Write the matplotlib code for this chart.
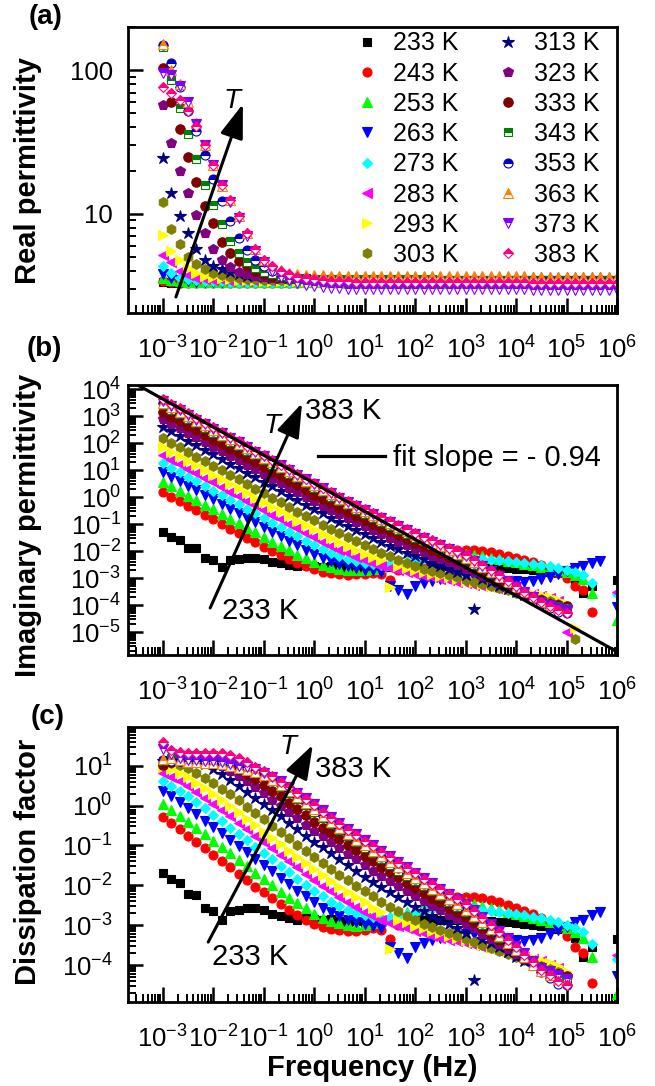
import numpy as np
import matplotlib
matplotlib.use("Agg")
import matplotlib.pyplot as plt
from matplotlib.ticker import FixedLocator, LogLocator, NullFormatter, FuncFormatter

nan = np.nan

plt.rcParams["font.family"] = ["Liberation Sans", "DejaVu Sans"]
plt.rcParams["mathtext.fontset"] = "custom"
plt.rcParams["mathtext.rm"] = "Liberation Sans"
plt.rcParams["mathtext.it"] = "Liberation Sans:italic"
plt.rcParams["mathtext.bf"] = "Liberation Sans:bold"

# frequency grid of the sweep: 6 points per decade, 1 mHz .. 1 MHz
freq = np.logspace(-3, 6, 55)

# ---- real permittivity (linear) ----
re233 = [3.35, 3.32, 3.31, 3.30, 3.30, 3.30, 3.30, 3.30, 3.30, 3.30, 3.30,
         3.30, 3.30, 3.30, 3.30, 3.30, 3.30, 3.30, 3.30, 3.30, 3.30, 3.30,
         3.30, 3.30, 3.30, 3.30, 3.30, 3.30, 3.30, 3.30, 3.30, 3.30, 3.30,
         3.29, 3.29, 3.29, 3.29, 3.29, 3.29, 3.29, 3.29, 3.29, 3.29, 3.29,
         3.29, 3.29, 3.29, 3.29, 3.29, 3.29, 3.29, 3.29, 3.29, 3.29, 3.29]
re243 = [3.38, 3.34, 3.32, 3.31, 3.30, 3.30, 3.30, 3.30, 3.30, 3.30, 3.30,
         3.30, 3.30, 3.30, 3.30, 3.30, 3.30, 3.30, 3.30, 3.30, 3.30, 3.30,
         3.30, 3.30, 3.30, 3.30, 3.30, 3.30, 3.30, 3.30, 3.30, 3.30, 3.30,
         3.29, 3.29, 3.29, 3.29, 3.29, 3.29, 3.29, 3.29, 3.29, 3.29, 3.29,
         3.29, 3.29, 3.29, 3.29, 3.29, 3.29, 3.29, 3.29, 3.29, 3.29, 3.29]
re253 = [3.60, 3.45, 3.38, 3.35, 3.34, 3.33, 3.33, 3.33, 3.33, 3.33, 3.33,
         3.33, 3.33, 3.33, 3.33, 3.33, 3.33, 3.33, 3.33, 3.33, 3.33, 3.33,
         3.32, 3.32, 3.32, 3.32, 3.32, 3.32, 3.32, 3.32, 3.32, 3.32, 3.32,
         3.32, 3.32, 3.32, 3.32, 3.32, 3.32, 3.32, 3.32, 3.32, 3.32, 3.32,
         3.32, 3.32, 3.32, 3.32, 3.32, 3.32, 3.32, 3.32, 3.32, 3.32, 3.32]
re263 = [3.80, 3.55, 3.45, 3.40, 3.37, 3.36, 3.35, 3.35, 3.35, 3.35, 3.35,
         3.35, 3.35, 3.35, 3.35, 3.35, 3.35, 3.35, 3.35, 3.35, 3.35, 3.35,
         3.34, 3.34, 3.34, 3.34, 3.34, 3.34, 3.34, 3.34, 3.34, 3.34, 3.34,
         3.34, 3.34, 3.34, 3.34, 3.34, 3.34, 3.34, 3.34, 3.34, 3.34, 3.34,
         3.34, 3.34, 3.34, 3.34, 3.34, 3.34, 3.34, 3.34, 3.34, 3.34, 3.34]
re273 = [4.30, 3.85, 3.60, 3.50, 3.45, 3.42, 3.40, 3.38, 3.37, 3.36, 3.36,
         3.36, 3.36, 3.36, 3.36, 3.36, 3.36, 3.36, 3.36, 3.36, 3.36, 3.36,
         3.35, 3.35, 3.35, 3.35, 3.35, 3.35, 3.35, 3.35, 3.35, 3.35, 3.35,
         3.35, 3.35, 3.35, 3.35, 3.35, 3.35, 3.35, 3.35, 3.35, 3.35, 3.35,
         3.35, 3.35, 3.35, 3.35, 3.35, 3.35, 3.35, 3.35, 3.35, 3.35, 3.35]
re283 = [5.20, 4.60, 4.00, 3.75, 3.60, 3.52, 3.47, 3.44, 3.42, 3.41, 3.40,
         3.40, 3.40, 3.40, 3.40, 3.40, 3.40, 3.40, 3.40, 3.40, 3.40, 3.40,
         3.39, 3.39, 3.39, 3.39, 3.39, 3.39, 3.39, 3.39, 3.39, 3.39, 3.39,
         3.38, 3.38, 3.38, 3.38, 3.38, 3.38, 3.38, 3.38, 3.38, 3.38, 3.38,
         3.38, 3.38, 3.38, 3.38, 3.38, 3.38, 3.38, 3.38, 3.38, 3.38, 3.38]
re293 = [7.10, 5.50, 4.80, 4.20, 3.90, 3.72, 3.62, 3.55, 3.50, 3.47, 3.45,
         3.44, 3.43, 3.42, 3.42, 3.42, 3.41, 3.41, 3.41, 3.41, 3.41, 3.41,
         3.41, 3.41, 3.41, 3.41, 3.41, 3.41, 3.41, 3.41, 3.41, 3.41, 3.41,
         3.40, 3.40, 3.40, 3.40, 3.40, 3.40, 3.40, 3.40, 3.40, 3.40, 3.40,
         3.40, 3.40, 3.40, 3.40, 3.40, 3.40, 3.40, 3.40, 3.40, 3.40, 3.40]
re303 = [12.0, 7.80, 6.20, 5.00, 4.50, 4.15, 3.90, 3.75, 3.65, 3.58, 3.53,
         3.50, 3.48, 3.47, 3.46, 3.45, 3.45, 3.45, 3.44, 3.44, 3.44, 3.44,
         3.44, 3.44, 3.44, 3.44, 3.44, 3.44, 3.44, 3.44, 3.44, 3.44, 3.44,
         3.43, 3.43, 3.43, 3.43, 3.43, 3.43, 3.43, 3.43, 3.43, 3.43, 3.43,
         3.43, 3.43, 3.43, 3.43, 3.43, 3.43, 3.43, 3.43, 3.43, 3.43, 3.43]
re313 = [24.6, 14.0, 9.70, 7.30, 5.70, 4.80, 4.35, 4.10, 3.92, 3.80, 3.72,
         3.67, 3.63, 3.60, 3.58, 3.57, 3.56, 3.56, 3.56, 3.56, 3.56, 3.56,
         3.55, 3.55, 3.55, 3.55, 3.55, 3.55, 3.55, 3.55, 3.55, 3.55, 3.55,
         3.55, 3.55, 3.55, 3.55, 3.55, 3.55, 3.55, 3.55, 3.55, 3.55, 3.55,
         3.55, 3.55, 3.55, 3.55, 3.55, 3.55, 3.55, 3.55, 3.55, 3.55, 3.55]
re323 = [57.0, 31.0, 20.0, 13.9, 9.80, 7.30, 5.70, 4.80, 4.25, 3.95, 3.80,
         3.70, 3.64, 3.60, 3.57, 3.55, 3.53, 3.52, 3.51, 3.50, 3.50, 3.50,
         3.49, 3.49, 3.49, 3.49, 3.49, 3.49, 3.49, 3.49, 3.49, 3.49, 3.49,
         3.48, 3.48, 3.48, 3.48, 3.48, 3.48, 3.48, 3.48, 3.48, 3.48, 3.48,
         3.48, 3.48, 3.48, 3.48, 3.48, 3.48, 3.48, 3.48, 3.48, 3.48, 3.48]
re333 = [103., 60.0, 39.0, 25.0, 16.7, 11.4, 8.60, 6.40, 5.30, 4.70, 4.30,
         4.00, 3.82, 3.72, 3.64, 3.59, 3.56, 3.54, 3.52, 3.51, 3.50, 3.50,
         3.49, 3.49, 3.49, 3.49, 3.49, 3.49, 3.49, 3.49, 3.49, 3.49, 3.49,
         3.48, 3.48, 3.48, 3.48, 3.48, 3.48, 3.48, 3.48, 3.48, 3.48, 3.48,
         3.48, 3.48, 3.48, 3.48, 3.48, 3.48, 3.48, 3.48, 3.48, 3.48, 3.48]
re343 = [145., 85.0, 55.0, 36.0, 24.0, 16.0, 11.5, 8.50, 6.50, 5.30, 4.60,
         4.20, 3.95, 3.80, 3.70, 3.63, 3.59, 3.56, 3.54, 3.52, 3.51, 3.50,
         3.50, 3.50, 3.50, 3.50, 3.50, 3.50, 3.50, 3.50, 3.50, 3.50, 3.50,
         3.49, 3.49, 3.49, 3.49, 3.49, 3.49, 3.49, 3.49, 3.49, 3.49, 3.49,
         3.48, 3.48, 3.48, 3.48, 3.48, 3.48, 3.48, 3.48, 3.48, 3.48, 3.48]
re353 = [150., 112., 76.0, 52.0, 38.0, 25.5, 17.6, 12.3, 8.90, 6.80, 5.60,
         4.80, 4.30, 4.00, 3.80, 3.68, 3.60, 3.55, 3.52, 3.50, 3.48, 3.47,
         3.46, 3.45, 3.45, 3.45, 3.45, 3.45, 3.45, 3.45, 3.45, 3.45, 3.45,
         3.45, 3.45, 3.45, 3.45, 3.45, 3.45, 3.45, 3.45, 3.45, 3.45, 3.45,
         3.44, 3.44, 3.44, 3.44, 3.44, 3.44, 3.44, 3.44, 3.44, 3.44, 3.44]
re363 = [153., 100., 80.0, 60.0, 43.0, 30.0, 22.0, 15.6, 12.4, 9.60, 7.30,
         5.70, 4.80, 4.30, 4.05, 3.90, 3.82, 3.78, 3.75, 3.73, 3.72, 3.71,
         3.70, 3.70, 3.70, 3.70, 3.70, 3.70, 3.70, 3.70, 3.70, 3.70, 3.70,
         3.68, 3.68, 3.68, 3.68, 3.68, 3.68, 3.68, 3.68, 3.68, 3.68, 3.68,
         3.66, 3.66, 3.66, 3.66, 3.66, 3.66, 3.66, 3.66, 3.66, 3.66, 3.66]
re373 = [95.0, 92.0, 78.0, 60.0, 42.0, 30.0, 22.0, 16.0, 12.0, 9.30, 7.00,
         5.50, 4.60, 4.00, 3.65, 3.45, 3.32, 3.22, 3.15, 3.10, 3.06, 3.03,
         3.01, 3.00, 3.00, 3.00, 3.00, 3.00, 3.00, 3.00, 3.00, 3.00, 3.00,
         2.98, 2.98, 2.98, 2.98, 2.98, 2.98, 2.98, 2.98, 2.98, 2.98, 2.98,
         2.96, 2.96, 2.96, 2.96, 2.96, 2.96, 2.96, 2.96, 2.96, 2.96, 2.96]
re383 = [76.0, 70.0, 62.0, 52.0, 41.0, 30.0, 22.0, 16.0, 12.4, 9.60, 7.30,
         5.70, 4.80, 4.30, 4.00, 3.80, 3.65, 3.55, 3.50, 3.45, 3.42, 3.40,
         3.38, 3.37, 3.36, 3.35, 3.35, 3.35, 3.35, 3.35, 3.35, 3.35, 3.35,
         3.33, 3.33, 3.33, 3.33, 3.33, 3.33, 3.33, 3.33, 3.33, 3.33, 3.33,
         3.31, 3.31, 3.31, 3.31, 3.31, 3.31, 3.31, 3.31, 3.31, 3.31, 3.31]

# ---- imaginary permittivity, log10 ----
im233 = [-1.31, -1.47, -1.59, -1.88, -1.90, -2.27, -2.33, -2.58, -2.33, -2.30, -2.27,
         -2.25, -2.30, -2.40, -2.46, -2.52, -2.56, -2.52, -2.55, -2.58, -2.55, -2.60,
         -2.62, -2.60, -2.63, -2.62, -2.60, -2.58, -2.57, -2.56, -2.55, -2.55, -2.55,
         -2.56, -2.57, -2.58, -2.58, -2.59, -2.60, -2.61, -2.62, -2.63, -2.65, -2.67,
         -2.70, -2.73, -2.77, -2.82, -2.90, -3.05, -3.57, -3.30, nan, nan, -3.07]
im243 = [0.19, 0.01, -0.15, -0.32, -0.49, -0.66, -0.83, -1.00, -1.17, -1.34, -1.51,
         -1.68, -1.84, -2.00, -2.15, -2.30, -2.44, -2.57, -2.68, -2.76, -2.82, -2.85,
         -2.87, -2.86, -2.84, -2.80, -2.85, -3.07, -2.70, -2.58, -2.45, -2.32, -2.20,
         -2.10, -2.02, -1.97, -1.96, -1.97, -2.00, -2.05, -2.11, -2.18, -2.25, -2.33,
         -2.42, -2.52, -2.64, -2.80, -3.00, -3.30, -3.45, -4.25, nan, nan, nan]
im253 = [0.56, 0.39, 0.22, 0.05, -0.12, -0.29, -0.46, -0.63, -0.80, -0.97, -1.14,
         -1.31, -1.48, -1.65, -1.82, -1.98, -2.13, -2.27, -2.40, -2.51, -2.60, -2.66,
         -2.70, -2.72, -2.70, -2.66, -2.60, -2.53, -2.45, -2.37, -2.30, -2.23, -2.17,
         -2.12, -2.09, -2.08, -2.10, -2.14, -2.19, -2.25, -2.30, -2.36, -2.42, -2.48,
         -2.53, -2.58, -2.64, -2.70, -2.78, -2.88, -3.05, -3.57, nan, nan, -4.56]
im263 = [0.93, 0.76, 0.59, 0.42, 0.25, 0.08, -0.09, -0.26, -0.43, -0.60, -0.77,
         -0.94, -1.11, -1.28, -1.45, -1.62, -1.79, -1.95, -2.10, -2.24, -2.37, -2.48,
         -2.57, -2.64, -2.69, -2.72, -2.78, -3.30, -3.45, -3.60, -3.30, -3.20, -3.10,
         -3.05, -3.00, -3.00, -2.95, -2.95, -3.00, -3.05, -3.10, -3.10, -3.12, -3.15,
         -3.10, -3.05, -2.95, -2.85, -2.75, -2.63, -2.56, -2.44, -2.37, nan, -4.07]
im273 = [1.26, 1.09, 0.92, 0.75, 0.58, 0.41, 0.24, 0.07, -0.10, -0.27, -0.44,
         -0.61, -0.78, -0.95, -1.12, -1.29, -1.46, -1.63, -1.79, -1.94, -2.08, -2.20,
         -2.30, -2.38, -2.44, -2.48, -2.50, -2.48, -2.45, -2.40, -2.35, -2.31, -2.28,
         -2.26, -2.25, -2.25, -2.26, -2.28, -2.30, -2.32, -2.35, -2.38, -2.41, -2.44,
         -2.48, -2.52, -2.57, -2.63, -2.70, -2.78, -2.88, -3.20, nan, nan, -3.60]
im283 = [1.56, 1.39, 1.22, 1.05, 0.88, 0.71, 0.54, 0.37, 0.20, 0.03, -0.14,
         -0.31, -0.48, -0.65, -0.82, -0.99, -1.16, -1.33, -1.49, -1.65, -1.80, -1.95,
         -2.09, -2.22, -2.34, -2.45, -2.55, -2.64, -2.72, -2.79, -2.86, -2.92, -2.98,
         -3.04, -3.09, -3.14, -3.19, -3.24, -3.29, -3.34, -3.39, -3.44, -3.49, -3.55,
         -3.61, -3.67, -3.75, -3.85, -5.00, nan, nan, nan, nan, nan, -3.50]
im293 = [1.85, 1.68, 1.51, 1.34, 1.17, 1.00, 0.83, 0.66, 0.49, 0.32, 0.15,
         -0.02, -0.19, -0.36, -0.53, -0.70, -0.87, -1.04, -1.20, -1.36, -1.52, -1.67,
         -1.82, -1.96, -2.10, -2.23, -2.35, -3.35, -2.55, -2.63, -2.71, -2.78, -2.85,
         -2.92, -2.98, -3.04, -3.10, -3.16, -3.22, -3.28, -3.34, -3.40, -3.46, -3.52,
         -3.58, -3.64, -3.70, -3.80, -3.95, -4.85, nan, nan, nan, nan, nan]
im303 = [2.18, 2.01, 1.84, 1.67, 1.50, 1.33, 1.16, 0.99, 0.82, 0.65, 0.48,
         0.31, 0.14, -0.03, -0.20, -0.37, -0.54, -0.70, -0.86, -1.02, -1.18, -1.34,
         -1.49, -1.64, -1.79, -1.93, -2.07, -2.20, -2.32, -2.44, -2.55, -2.65, -2.74,
         -2.82, -2.90, -2.98, -3.06, -3.14, -3.22, -3.30, -3.38, -3.46, -3.54, -3.62,
         -3.70, -3.78, -3.86, -3.95, nan, -5.25, nan, nan, nan, nan, nan]
im313 = [2.60, 2.43, 2.26, 2.09, 1.92, 1.75, 1.58, 1.41, 1.24, 1.07, 0.90,
         0.73, 0.56, 0.39, 0.22, 0.05, -0.12, -0.29, -0.45, -0.61, -0.77, -0.93,
         -1.08, -1.23, -1.38, -1.52, -1.66, -1.80, -1.93, -2.06, -2.19, -2.31, -2.43,
         -2.55, -2.66, -2.77, -2.88, -4.15, -3.05, -3.16, -3.28, -3.40, -3.52, -3.64,
         -3.76, -3.88, -3.95, nan, nan, nan, nan, nan, nan, nan, nan]
im323 = [2.89, 2.72, 2.55, 2.38, 2.21, 2.04, 1.87, 1.70, 1.53, 1.36, 1.19,
         1.02, 0.85, 0.68, 0.51, 0.34, 0.17, 0.00, -0.16, -0.32, -0.48, -0.64,
         -0.79, -0.94, -1.09, -1.23, -1.37, -1.51, -1.65, -1.78, -1.91, -2.04, -2.17,
         -2.29, -2.41, -2.53, -2.65, -2.78, -2.91, -3.05, -3.19, -3.33, -3.47, -3.61,
         -3.75, -3.85, -3.95, -4.00, nan, nan, nan, nan, nan, nan, nan]
im333 = [3.15, 2.98, 2.81, 2.64, 2.47, 2.30, 2.13, 1.96, 1.79, 1.62, 1.45,
         1.28, 1.11, 0.94, 0.77, 0.60, 0.43, 0.26, 0.09, -0.07, -0.23, -0.39,
         -0.54, -0.69, -0.84, -0.99, -1.13, -1.27, -1.41, -1.55, -1.69, -1.83, -1.96,
         -2.09, -2.22, -2.35, -2.48, -2.62, -2.77, -2.92, -3.07, -3.23, -3.39, -3.55,
         -3.70, -3.82, -3.95, -4.00, -4.05, nan, nan, nan, nan, nan, nan]
im343 = [3.41, 3.24, 3.07, 2.90, 2.73, 2.56, 2.39, 2.22, 2.05, 1.88, 1.71,
         1.54, 1.37, 1.20, 1.03, 0.86, 0.69, 0.52, 0.35, 0.18, 0.01, -0.15,
         -0.31, -0.47, -0.62, -0.77, -0.92, -1.07, -1.22, -1.36, -1.50, -1.64, -1.78,
         -1.92, -2.06, -2.20, -2.34, -2.50, -2.67, -2.84, -3.01, -3.19, -3.37, -3.55,
         -3.72, -3.85, -3.95, -4.05, -4.10, nan, nan, nan, nan, nan, nan]
im353 = [3.47, 3.30, 3.13, 2.96, 2.79, 2.62, 2.45, 2.28, 2.11, 1.94, 1.77,
         1.60, 1.43, 1.26, 1.09, 0.92, 0.75, 0.58, 0.41, 0.24, 0.07, -0.09,
         -0.25, -0.41, -0.56, -0.71, -0.86, -1.01, -1.16, -1.30, -1.45, -1.59, -1.73,
         -1.87, -2.01, -2.15, -2.29, -2.46, -2.63, -2.81, -2.99, -3.17, -3.36, -3.55,
         -3.74, -3.95, -4.10, -4.25, -4.30, nan, nan, nan, nan, nan, nan]
im363 = [3.50, 3.33, 3.16, 2.99, 2.82, 2.65, 2.48, 2.31, 2.14, 1.97, 1.80,
         1.63, 1.46, 1.29, 1.12, 0.95, 0.78, 0.61, 0.44, 0.27, 0.10, -0.06,
         -0.22, -0.37, -0.52, -0.67, -0.82, -0.97, -1.12, -1.26, -1.41, -1.55, -1.69,
         -1.83, -1.97, -2.11, -2.25, -2.42, -2.60, -2.78, -2.96, -3.15, -3.34, -3.53,
         -3.72, -3.88, -4.00, -4.10, -4.15, nan, nan, nan, nan, nan, nan]
im373 = [3.55, 3.38, 3.21, 3.04, 2.87, 2.70, 2.53, 2.36, 2.19, 2.02, 1.85,
         1.68, 1.51, 1.34, 1.17, 1.00, 0.83, 0.66, 0.49, 0.32, 0.15, -0.02,
         -0.18, -0.33, -0.48, -0.63, -0.78, -0.93, -1.08, -1.22, -1.37, -1.51, -1.65,
         -1.79, -1.93, -2.07, -2.20, -2.37, -2.55, -2.74, -2.93, -3.12, -3.32, -3.52,
         -3.72, -3.90, -4.00, -4.10, -4.20, nan, nan, nan, nan, nan, nan]
im383 = [3.63, 3.46, 3.28, 3.11, 2.94, 2.76, 2.59, 2.42, 2.24, 2.07, 1.90,
         1.72, 1.55, 1.38, 1.20, 1.03, 0.86, 0.68, 0.51, 0.34, 0.17, 0.00,
         -0.15, -0.30, -0.45, -0.60, -0.75, -0.90, -1.04, -1.18, -1.33, -1.47, -1.61,
         -1.75, -1.88, -2.01, -2.15, -2.33, -2.51, -2.70, -2.90, -3.10, -3.30, -3.50,
         -3.70, -3.90, -4.05, -4.20, -4.30, nan, nan, nan, nan, nan, nan]

# ---- dissipation factor, log10 ----
df233 = [-1.68, -1.83, -1.94, -2.22, -2.24, -2.58, -2.64, -2.88, -2.64, -2.61, -2.58,
         -2.57, -2.61, -2.71, -2.76, -2.82, -2.86, -2.82, -2.85, -2.88, -2.85, -2.89,
         -2.91, -2.89, -2.92, -2.91, -2.89, -2.88, -2.87, -2.86, -2.85, -2.85, -2.85,
         -2.86, -2.87, -2.88, -2.88, -2.88, -2.89, -2.90, -2.91, -2.92, -2.94, -2.96,
         -2.99, -3.02, -3.05, -3.10, -3.18, -3.32, -3.81, -3.55, nan, nan, -3.34]
df243 = [-0.28, -0.44, -0.59, -0.75, -0.91, -1.07, -1.23, -1.39, -1.55, -1.71, -1.87,
         -2.03, -2.18, -2.33, -2.47, -2.61, -2.74, -2.87, -2.97, -3.04, -3.10, -3.13,
         -3.15, -3.14, -3.12, -3.08, -3.13, -3.34, -2.99, -2.88, -2.75, -2.63, -2.52,
         -2.42, -2.35, -2.30, -2.29, -2.30, -2.33, -2.38, -2.43, -2.50, -2.57, -2.64,
         -2.73, -2.82, -2.93, -3.08, -3.27, -3.55, -3.69, -4.45, nan, nan, nan]
df253 = [0.04, -0.10, -0.25, -0.41, -0.56, -0.72, -0.88, -1.04, -1.20, -1.36, -1.52,
         -1.68, -1.84, -2.00, -2.16, -2.31, -2.45, -2.58, -2.71, -2.81, -2.89, -2.95,
         -2.99, -3.01, -2.99, -2.95, -2.89, -2.83, -2.75, -2.68, -2.61, -2.55, -2.49,
         -2.44, -2.41, -2.41, -2.42, -2.46, -2.51, -2.57, -2.61, -2.67, -2.72, -2.78,
         -2.83, -2.88, -2.93, -2.99, -3.06, -3.16, -3.32, -3.81, nan, nan, -4.74]
df263 = [0.36, 0.23, 0.09, -0.07, -0.22, -0.38, -0.54, -0.69, -0.85, -1.01, -1.17,
         -1.33, -1.49, -1.65, -1.81, -1.97, -2.13, -2.28, -2.42, -2.56, -2.68, -2.78,
         -2.87, -2.93, -2.98, -3.01, -3.06, -3.55, -3.69, -3.83, -3.55, -3.46, -3.36,
         -3.32, -3.27, -3.27, -3.22, -3.22, -3.27, -3.32, -3.36, -3.36, -3.38, -3.41,
         -3.36, -3.32, -3.22, -3.13, -3.04, -2.92, -2.86, -2.74, -2.68, nan, -4.28]
df273 = [0.62, 0.50, 0.37, 0.24, 0.08, -0.07, -0.23, -0.39, -0.55, -0.71, -0.87,
         -1.03, -1.19, -1.35, -1.51, -1.67, -1.83, -1.99, -2.14, -2.28, -2.42, -2.53,
         -2.62, -2.70, -2.75, -2.79, -2.81, -2.79, -2.76, -2.72, -2.67, -2.63, -2.60,
         -2.58, -2.58, -2.58, -2.58, -2.60, -2.62, -2.64, -2.67, -2.70, -2.73, -2.75,
         -2.79, -2.83, -2.88, -2.93, -3.00, -3.07, -3.17, -3.47, nan, nan, -3.84]
df283 = [0.82, 0.72, 0.62, 0.49, 0.34, 0.19, 0.04, -0.12, -0.27, -0.43, -0.59,
         -0.75, -0.91, -1.07, -1.23, -1.39, -1.55, -1.71, -1.86, -2.01, -2.15, -2.29,
         -2.42, -2.55, -2.66, -2.76, -2.86, -2.94, -3.02, -3.08, -3.15, -3.20, -3.26,
         -3.32, -3.36, -3.41, -3.46, -3.51, -3.55, -3.60, -3.65, -3.69, -3.74, -3.80,
         -3.85, -3.91, -3.99, -4.08, -5.16, nan, nan, nan, nan, nan, -3.75]
df293 = [0.96, 0.91, 0.81, 0.71, 0.58, 0.44, 0.29, 0.14, -0.01, -0.17, -0.33,
         -0.49, -0.65, -0.81, -0.97, -1.13, -1.29, -1.45, -1.60, -1.74, -1.89, -2.03,
         -2.17, -2.30, -2.43, -2.56, -2.67, -3.61, -2.86, -2.93, -3.01, -3.07, -3.14,
         -3.20, -3.26, -3.32, -3.37, -3.43, -3.49, -3.54, -3.60, -3.66, -3.71, -3.77,
         -3.83, -3.88, -3.94, -4.03, -4.17, -5.02, nan, nan, nan, nan, nan]
df303 = [1.04, 1.07, 1.01, 0.94, 0.83, 0.70, 0.57, 0.43, 0.28, 0.13, -0.03,
         -0.18, -0.34, -0.50, -0.66, -0.82, -0.98, -1.13, -1.28, -1.43, -1.58, -1.73,
         -1.87, -2.01, -2.15, -2.28, -2.42, -2.54, -2.65, -2.76, -2.87, -2.96, -3.05,
         -3.12, -3.20, -3.27, -3.35, -3.42, -3.50, -3.57, -3.65, -3.72, -3.80, -3.87,
         -3.95, -4.02, -4.10, -4.18, nan, -5.40, nan, nan, nan, nan, nan]
df313 = [1.12, 1.20, 1.20, 1.17, 1.11, 1.04, 0.92, 0.79, 0.65, 0.50, 0.35,
         0.20, 0.04, -0.12, -0.27, -0.43, -0.59, -0.75, -0.90, -1.05, -1.20, -1.35,
         -1.50, -1.64, -1.78, -1.91, -2.04, -2.17, -2.29, -2.42, -2.54, -2.65, -2.76,
         -2.88, -2.98, -3.08, -3.19, -4.38, -3.35, -3.45, -3.56, -3.68, -3.79, -3.90,
         -4.01, -4.13, -4.19, nan, nan, nan, nan, nan, nan, nan, nan]
df323 = [1.03, 1.14, 1.17, 1.17, 1.16, 1.13, 1.07, 0.99, 0.88, 0.75, 0.61,
         0.46, 0.31, 0.15, 0.00, -0.16, -0.32, -0.48, -0.63, -0.77, -0.92, -1.07,
         -1.21, -1.35, -1.49, -1.63, -1.76, -1.89, -2.02, -2.14, -2.27, -2.39, -2.51,
         -2.62, -2.74, -2.85, -2.96, -3.08, -3.21, -3.34, -3.47, -3.60, -3.73, -3.86,
         -4.00, -4.09, -4.18, -4.23, nan, nan, nan, nan, nan, nan, nan]
df333 = [1.02, 1.09, 1.12, 1.15, 1.17, 1.17, 1.14, 1.10, 1.03, 0.92, 0.80,
         0.67, 0.53, 0.38, 0.23, 0.07, -0.08, -0.24, -0.40, -0.55, -0.69, -0.84,
         -0.98, -1.12, -1.26, -1.40, -1.53, -1.66, -1.80, -1.93, -2.06, -2.19, -2.31,
         -2.43, -2.56, -2.68, -2.80, -2.93, -3.07, -3.21, -3.36, -3.51, -3.66, -3.81,
         -3.95, -4.06, -4.18, -4.23, -4.28, nan, nan, nan, nan, nan, nan]
df343 = [1.12, 1.19, 1.22, 1.24, 1.26, 1.28, 1.26, 1.23, 1.19, 1.12, 1.02,
         0.90, 0.76, 0.62, 0.47, 0.32, 0.16, 0.01, -0.15, -0.31, -0.47, -0.62,
         -0.77, -0.92, -1.06, -1.20, -1.34, -1.49, -1.63, -1.76, -1.89, -2.02, -2.15,
         -2.28, -2.42, -2.55, -2.68, -2.83, -2.99, -3.15, -3.31, -3.48, -3.65, -3.82,
         -3.98, -4.10, -4.19, -4.29, -4.33, nan, nan, nan, nan, nan, nan]
df353 = [1.15, 1.12, 1.13, 1.13, 1.11, 1.12, 1.12, 1.12, 1.10, 1.06, 0.98,
         0.89, 0.78, 0.65, 0.51, 0.36, 0.22, 0.07, -0.09, -0.24, -0.40, -0.55,
         -0.71, -0.86, -1.00, -1.14, -1.28, -1.42, -1.56, -1.69, -1.83, -1.96, -2.10,
         -2.23, -2.36, -2.49, -2.62, -2.78, -2.94, -3.11, -3.28, -3.45, -3.63, -3.81,
         -3.99, -4.18, -4.32, -4.47, -4.51, nan, nan, nan, nan, nan, nan]
df363 = [1.18, 1.20, 1.14, 1.10, 1.09, 1.08, 1.06, 1.05, 0.99, 0.94, 0.90,
         0.84, 0.76, 0.65, 0.51, 0.37, 0.22, 0.06, -0.09, -0.25, -0.41, -0.56,
         -0.71, -0.85, -0.99, -1.13, -1.27, -1.41, -1.55, -1.68, -1.82, -1.95, -2.08,
         -2.21, -2.34, -2.47, -2.61, -2.76, -2.93, -3.10, -3.27, -3.45, -3.63, -3.81,
         -3.99, -4.14, -4.25, -4.34, -4.39, nan, nan, nan, nan, nan, nan]
df373 = [1.43, 1.29, 1.20, 1.15, 1.15, 1.13, 1.11, 1.09, 1.05, 1.00, 0.96,
         0.91, 0.83, 0.73, 0.61, 0.47, 0.33, 0.18, 0.03, -0.12, -0.28, -0.43,
         -0.58, -0.72, -0.85, -0.99, -1.13, -1.27, -1.42, -1.55, -1.69, -1.82, -1.95,
         -2.08, -2.21, -2.35, -2.47, -2.63, -2.80, -2.98, -3.15, -3.33, -3.52, -3.71,
         -3.90, -4.07, -4.16, -4.25, -4.35, nan, nan, nan, nan, nan, nan]
df383 = [1.60, 1.40, 1.35, 1.33, 1.32, 1.32, 1.32, 1.31, 1.28, 1.20, 1.10,
         0.98, 0.86, 0.74, 0.60, 0.46, 0.32, 0.16, 0.01, -0.15, -0.30, -0.46,
         -0.60, -0.74, -0.88, -1.02, -1.16, -1.30, -1.43, -1.56, -1.70, -1.83, -1.96,
         -2.10, -2.22, -2.34, -2.47, -2.64, -2.81, -2.99, -3.18, -3.36, -3.55, -3.74,
         -3.93, -4.12, -4.26, -4.40, -4.49, nan, nan, nan, nan, nan, nan]

# straight line drawn on panel (b): log10(eps'') = intercept + slope*log10(f)
fit_intercept = 0.51
fit_slope_drawn = -1.04
fit_f = np.array([2.0e-4, 1.0e6])

temps = [233, 243, 253, 263, 273, 283, 293, 303, 313, 323, 333, 343, 353, 363, 373, 383]
real_sets = [re233, re243, re253, re263, re273, re283, re293, re303,
             re313, re323, re333, re343, re353, re363, re373, re383]
imag_sets = [im233, im243, im253, im263, im273, im283, im293, im303,
             im313, im323, im333, im343, im353, im363, im373, im383]
diss_sets = [df233, df243, df253, df263, df273, df283, df293, df303,
             df313, df323, df333, df343, df353, df363, df373, df383]

colors = ["#000000", "#FF0000", "#00FF00", "#0000FF", "#00FFFF", "#FF00FF", "#FFFF00", "#808000",
          "#000080", "#800080", "#800000", "#008000", "#0000C0", "#FF8000", "#8000FF", "#FF0080"]
markers = ["s", "o", "^", "v", "D", "<", ">", "h", "*", "p", "o", "s", "o", "^", "v", "D"]
msizes = [5.8, 6.5, 7, 7, 5.2, 7, 7, 7, 9, 7.5, 6.8, 6, 6.5, 7, 7, 5.5]
fills = ["full"] * 11 + ["top"] * 5


def style_axis(ax, ypad):
    ax.set_xscale("log")
    ax.set_yscale("log")
    ax.set_xlim(10 ** -3.69, 10 ** 6.0)
    ax.xaxis.set_major_locator(FixedLocator(10.0 ** np.arange(-3, 7)))
    ax.xaxis.set_major_formatter(FuncFormatter(lambda v, p: r"$10^{%d}$" % round(np.log10(v))))
    ax.xaxis.set_minor_locator(LogLocator(base=10, subs=np.arange(2, 10) * 1.0, numticks=100))
    ax.xaxis.set_minor_formatter(NullFormatter())
    ax.yaxis.set_minor_locator(LogLocator(base=10, subs=np.arange(2, 10) * 1.0, numticks=100))
    ax.yaxis.set_minor_formatter(NullFormatter())
    ax.tick_params(which="both", direction="in", top=False, right=False)
    ax.tick_params(which="major", length=10.5, width=1.8, labelsize=18.5)
    ax.tick_params(axis="x", which="major", pad=17)
    ax.tick_params(axis="y", which="major", pad=ypad)
    ax.tick_params(which="minor", length=5.5, width=1.4)
    for sp in ax.spines.values():
        sp.set_linewidth(2)


def draw_series(ax, ydata, to_linear):
    for i, t in enumerate(temps):
        y = np.array(ydata[i], dtype=float)
        if to_linear:
            y = 10.0 ** y
        ax.plot(freq, y, linestyle="none", marker=markers[i], ms=msizes[i],
                color=colors[i], markerfacecolor=colors[i], markeredgecolor=colors[i],
                markeredgewidth=0.8, fillstyle=fills[i], markerfacecoloralt="white",
                label="%d K" % t)


def t_arrow(ax, start, tip, tpos):
    ax.annotate("", xy=tip, xytext=start, xycoords="axes fraction", textcoords="axes fraction",
                arrowprops=dict(arrowstyle="-|>,head_length=1.05,head_width=0.36", color="black",
                                lw=2.2, mutation_scale=20, shrinkA=0, shrinkB=0), zorder=20)
    ax.text(tpos[0], tpos[1], "T", style="italic", fontsize=20, transform=ax.transAxes,
            ha="center", va="center", zorder=20)


fig = plt.figure(figsize=(6.55, 10.86), dpi=100)
ax_a = fig.add_axes([0.1954, 0.7118, 0.7466, 0.2633])
ax_b = fig.add_axes([0.1954, 0.3969, 0.7466, 0.2486])
ax_c = fig.add_axes([0.1954, 0.0773, 0.7466, 0.2533])

# (a) real permittivity
draw_series(ax_a, real_sets, False)
style_axis(ax_a, 11)
ax_a.set_ylim(2.04, 200)
ax_a.yaxis.set_major_locator(FixedLocator([10, 100]))
ax_a.yaxis.set_major_formatter(FuncFormatter(lambda v, p: "%d" % round(v)))
ax_a.set_ylabel("Real permittivity", fontsize=21, fontweight="bold")
ax_a.yaxis.set_label_coords(-0.175, 0.5)
ax_a.legend(ncol=2, loc="upper left", bbox_to_anchor=(0.463, 0.985), frameon=False, fontsize=18,
            handlelength=1.0, handletextpad=0.55, columnspacing=1.45, labelspacing=0.25,
            borderpad=0, borderaxespad=0)
t_arrow(ax_a, (0.098, 0.056), (0.235, 0.731), (0.213, 0.74))

# (b) imaginary permittivity
draw_series(ax_b, imag_sets, True)
fit_line, = ax_b.plot(fit_f, 10.0 ** (fit_intercept + fit_slope_drawn * np.log10(fit_f)),
                      color="black", lw=2.3, zorder=15, label="fit slope = - 0.94")
style_axis(ax_b, 5)
ax_b.set_ylim(10 ** -5.85, 10 ** 4.15)
ax_b.yaxis.set_major_locator(FixedLocator(10.0 ** np.arange(-5, 5)))
ax_b.yaxis.set_major_formatter(FuncFormatter(lambda v, p: r"$10^{%d}$" % round(np.log10(v))))
ax_b.set_ylabel("Imaginary permittivity", fontsize=21, fontweight="bold")
ax_b.yaxis.set_label_coords(-0.175, 0.48)
ax_b.legend(handles=[fit_line], loc="center left", bbox_to_anchor=(0.389, 0.73), frameon=False,
            fontsize=21, handlelength=2.3, handletextpad=0.28, borderpad=0, borderaxespad=0)
t_arrow(ax_b, (0.168, 0.174), (0.356, 0.933), (0.294, 0.848))
ax_b.text(0.362, 0.904, "383 K", fontsize=21, transform=ax_b.transAxes, ha="left", va="center")
ax_b.text(0.192, 0.163, "233 K", fontsize=21, transform=ax_b.transAxes, ha="left", va="center")

# (c) dissipation factor
draw_series(ax_c, diss_sets, True)
style_axis(ax_c, 11)
ax_c.set_ylim(10 ** -4.93, 10 ** 1.975)
ax_c.yaxis.set_major_locator(FixedLocator(10.0 ** np.arange(-4, 3)))
ax_c.yaxis.set_major_formatter(FuncFormatter(lambda v, p: r"$10^{%d}$" % round(np.log10(v))))
ax_c.set_ylabel("Dissipation factor", fontsize=21, fontweight="bold")
ax_c.yaxis.set_label_coords(-0.175, 0.51)
ax_c.set_xlabel("Frequency (Hz)", fontsize=21, fontweight="bold")
ax_c.xaxis.set_label_coords(0.5, -0.19)
t_arrow(ax_c, (0.164, 0.218), (0.378, 0.935), (0.327, 0.927))
ax_c.text(0.382, 0.847, "383 K", fontsize=21, transform=ax_c.transAxes, ha="left", va="center")
ax_c.text(0.172, 0.164, "233 K", fontsize=21, transform=ax_c.transAxes, ha="left", va="center")

# panel letters
fig.text(0.043, 0.984, "(a)", fontsize=20, fontweight="bold", ha="left", va="center")
fig.text(0.041, 0.679, "(b)", fontsize=20, fontweight="bold", ha="left", va="center")
fig.text(0.046, 0.340, "(c)", fontsize=20, fontweight="bold", ha="left", va="center")

fig.savefig("out.png", dpi=100)
